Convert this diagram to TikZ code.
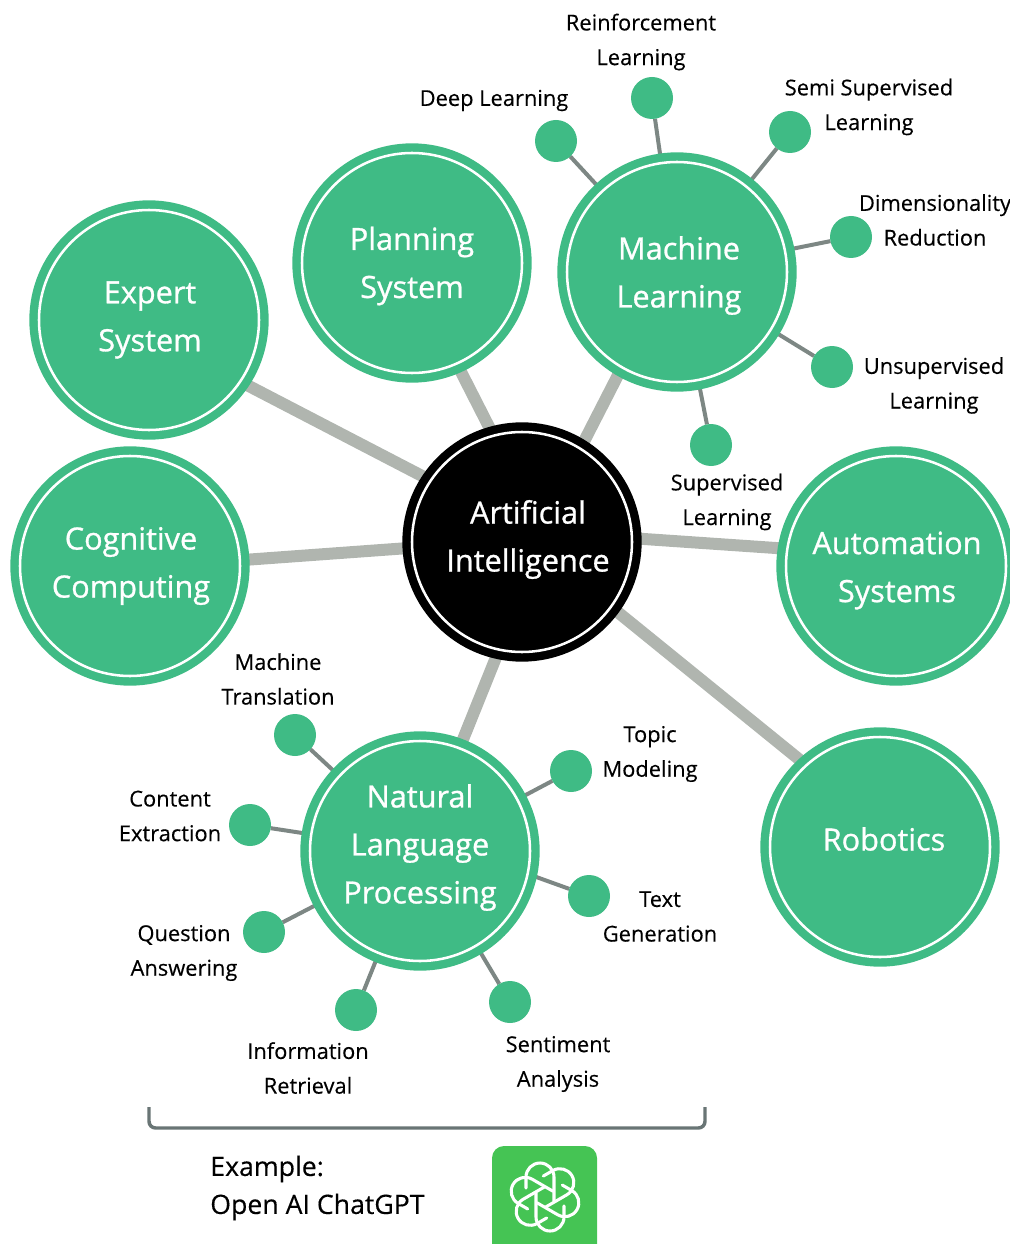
\documentclass[tikz,border=0pt]{standalone}
\usepackage{fontspec}
\setmainfont{Open Sans}
\newfontfamily\discfont[FakeBold=0.9]{Open Sans}
\newfontfamily\leaffont[FakeBold=0.3]{Open Sans}
\usetikzlibrary{backgrounds}
\definecolor{discgreen}{RGB}{63,187,133}
\definecolor{spokegray}{RGB}{176,181,175}
\definecolor{twiggray}{RGB}{125,135,132}
\definecolor{bracketgray}{RGB}{105,117,117}
\definecolor{logogreen}{RGB}{69,196,84}
\tikzset{every picture/.style={line width=0.75pt}}
\tikzset{
  bigdisc/.style={circle,minimum size=165pt,inner sep=0pt,outer sep=0pt,fill=discgreen,draw=discgreen,line width=6.3pt,double=white,double distance=1.9pt},
  hubdisc/.style={bigdisc,fill=black,draw=black},
  smalldisc/.style={circle,minimum size=31.5pt,inner sep=0pt,outer sep=0pt,fill=discgreen},
  disclabel/.style={text=white,align=center,font=\discfont\fontsize{23}{36}\selectfont},
  leaflabel/.style={inner sep=0.75pt,align=center,text=black,font=\leaffont\fontsize{16.4}{26}\selectfont},
  spoke/.style={color=spokegray,line width=9pt},
  twig/.style={color=twiggray,line width=3pt}
}

\begin{document}
\begin{tikzpicture}[x=0.75pt,y=0.75pt,yscale=-1,xscale=1]
\useasboundingbox (0,0) rectangle (1009,1244);

% Big discs
\draw (522,542) node [hubdisc] (ai) {};
\draw (149,320) node [bigdisc] (expert) {};
\draw (412,263) node [bigdisc] (planning) {};
\draw (677,272) node [bigdisc] (ml) {};
\draw (130,566) node [bigdisc] (cognitive) {};
\draw (896,566) node [bigdisc] (automation) {};
\draw (880,847) node [bigdisc] (robotics) {};
\draw (420,851) node [bigdisc] (nlp) {};

% Text Node
\draw (528,539.5) node [disclabel] (ailabel) {Artificial\\Intelligence};
\draw (150,320) node [disclabel] (expertlabel) {Expert\\System};
\draw (412,266) node [disclabel] (planninglabel) {Planning\\System};
\draw (679,275.5) node [disclabel] (mllabel) {Machine\\Learning};
\draw (131,566) node [disclabel] (cognitivelabel) {Cognitive\\Computing};
\draw (897,570.5) node [disclabel] (automationlabel) {Automation\\Systems};
\draw (884,839) node [disclabel] (roboticslabel) {Robotics};
\draw (420,847.5) node [disclabel] (nlplabel) {Natural\\Language\\Processing};

% Small discs
\draw (556,141) node [smalldisc] (deep) {};
\draw (652,98) node [smalldisc] (reinforcement) {};
\draw (790,132) node [smalldisc] (semi) {};
\draw (851,237) node [smalldisc] (dimension) {};
\draw (832,367) node [smalldisc] (unsupervised) {};
\draw (711,445) node [smalldisc] (supervised) {};
\draw (295,735) node [smalldisc] (translation) {};
\draw (250,825) node [smalldisc] (content) {};
\draw (264,932) node [smalldisc] (question) {};
\draw (356,1010) node [smalldisc] (information) {};
\draw (510,1002) node [smalldisc] (sentiment) {};
\draw (589,896) node [smalldisc] (textgen) {};
\draw (571,771) node [smalldisc] (topic) {};

\begin{pgfonlayer}{background}
%Straight Lines
\draw [spoke] (ai.146.6) -- (expert.-34.7);
\draw [spoke] (ai.105) -- (planning.-66.8);
\draw [spoke] (ai.58) -- (ml.-120);
\draw [spoke] (ai.183) -- (cognitive.3);
\draw [spoke] (ai.2.5) -- (automation.171);
\draw [spoke] (ai.-36.7) -- (robotics.132.6);
\draw [spoke] (ai.-102) -- (nlp.69);
%Straight Lines
\foreach \leaf in {deep,reinforcement,semi,dimension,unsupervised,supervised}
  \draw [twig] (ml) -- (\leaf);
\foreach \leaf in {translation,content,question,information,sentiment,topic}
  \draw [twig] (nlp) -- (\leaf);
\draw [twig] (nlp.-12) -- (textgen);
\end{pgfonlayer}

% Text Node
\draw (641,42) node [leaflabel] (reinforcementlabel) {Reinforcement\\Learning};
\draw (494,100.5) node [leaflabel] (deeplabel) {Deep Learning};
\draw (869,107) node [leaflabel] (semilabel) {Semi Supervised\\Learning};
\draw (935,220) node [leaflabel] (dimensionlabel) {Dimensionality\\Reduction};
\draw (934,385.5) node [leaflabel] (unsupervisedlabel) {Unsupervised\\Learning};
\draw (727,502) node [leaflabel] (supervisedlabel) {Supervised\\Learning};
\draw (278,679) node [leaflabel] (translationlabel) {Machine\\Translation};
\draw (650,754) node [leaflabel] (topiclabel) {Topic\\Modeling};
\draw (170,816) node [leaflabel] (contentlabel) {Content\\Extraction};
\draw (660,916.5) node [leaflabel] (textgenlabel) {Text\\Generation};
\draw (184,953) node [leaflabel] (questionlabel) {Question\\Answering};
\draw (308,1068) node [leaflabel] (informationlabel) {Information\\Retrieval};
\draw (558,1064) node [leaflabel] (sentimentlabel) {Sentiment\\Analysis};
% Text Node
\draw (209,1188) node [anchor=west,inner sep=0.75pt,align=left,text=black,font=\leaffont\fontsize{20}{28.5}\selectfont] (examplelabel) {Example:\\Open AI ChatGPT};

%Bracket
\coordinate (bracketleft) at (149,1107);
\coordinate (bracketright) at (705,1107);
\draw [color=bracketgray,line width=2.6pt,rounded corners=5pt] (bracketleft) |- (427,1128) -| (bracketright);

%Logo
\fill [logogreen,rounded corners=9pt] (492,1146) rectangle (597,1262);
\begin{scope}[shift={(545,1197)}]
\foreach \petal in {0,60,...,300}
  \draw [white,line width=2.3pt,line cap=round,rotate=\petal] (9,4) -- (9,-20) arc[start angle=0,end angle=-180,radius=14] -- (-19,-9);
\end{scope}

\end{tikzpicture}
\end{document}
